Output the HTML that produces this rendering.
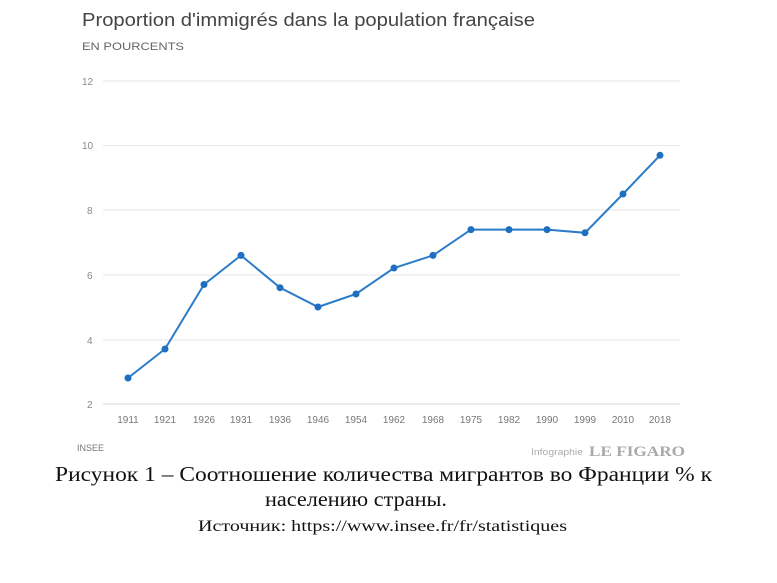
<!DOCTYPE html>
<html><head><meta charset="utf-8"><style>
body{margin:0;background:#fff;width:777px;height:583px;overflow:hidden}
svg{position:absolute;left:0;top:0}
</style></head><body>
<svg width="777" height="583" xmlns="http://www.w3.org/2000/svg">
<text x="82" y="26" font-family="Liberation Sans, sans-serif" font-size="18" fill="#444" textLength="453" lengthAdjust="spacingAndGlyphs">Proportion d'immigrés dans la population française</text>
<text x="82" y="50" font-family="Liberation Sans, sans-serif" font-size="11" fill="#666" textLength="102" lengthAdjust="spacingAndGlyphs">EN POURCENTS</text>
<g stroke="#e6e6e6" stroke-width="1">
<line x1="103" y1="81" x2="680" y2="81"/>
<line x1="103" y1="145.5" x2="680" y2="145.5"/>
<line x1="103" y1="210" x2="680" y2="210"/>
<line x1="103" y1="275" x2="680" y2="275"/>
<line x1="103" y1="340" x2="680" y2="340"/>
<line x1="103" y1="404" x2="680" y2="404" stroke="#d8d8d8"/>
</g>
<g font-family="Liberation Sans, sans-serif" font-size="10" fill="#888">
<text x="82" y="85">12</text><text x="82" y="149">10</text><text x="87" y="214">8</text>
<text x="87" y="279">6</text><text x="87" y="344">4</text><text x="87" y="408">2</text>
</g>
<g font-family="Liberation Sans, sans-serif" font-size="10" fill="#777" text-anchor="middle">
<text x="128" y="423">1911</text><text x="165" y="423">1921</text><text x="204" y="423">1926</text><text x="241" y="423">1931</text><text x="280" y="423">1936</text><text x="318" y="423">1946</text><text x="356" y="423">1954</text><text x="394" y="423">1962</text><text x="433" y="423">1968</text><text x="471" y="423">1975</text><text x="509" y="423">1982</text><text x="547" y="423">1990</text><text x="585" y="423">1999</text><text x="623" y="423">2010</text><text x="660" y="423">2018</text>
</g>
<polyline fill="none" stroke="#2a7bc8" stroke-width="2" points="128,378 165,349 204,284.5 241,255.4 280,287.7 318,307 356,294 394,268 433,255.4 471,229.6 509,229.6 547,229.6 585,232.8 623,194 660,155.3"/>
<g fill="#1f6fc0">
<circle cx="128" cy="378" r="3.5"/><circle cx="165" cy="349" r="3.5"/><circle cx="204" cy="284.5" r="3.5"/><circle cx="241" cy="255.4" r="3.5"/><circle cx="280" cy="287.7" r="3.5"/><circle cx="318" cy="307" r="3.5"/><circle cx="356" cy="294" r="3.5"/><circle cx="394" cy="268" r="3.5"/><circle cx="433" cy="255.4" r="3.5"/><circle cx="471" cy="229.6" r="3.5"/><circle cx="509" cy="229.6" r="3.5"/><circle cx="547" cy="229.6" r="3.5"/><circle cx="585" cy="232.8" r="3.5"/><circle cx="623" cy="194" r="3.5"/><circle cx="660" cy="155.3" r="3.5"/>
</g>
<text x="77" y="451" font-family="Liberation Sans, sans-serif" font-size="9" fill="#777">INSEE</text>
<text x="531" y="455" font-family="Liberation Sans, sans-serif" font-size="9" fill="#aaa" textLength="52" lengthAdjust="spacingAndGlyphs">Infographie</text>
<text x="589" y="456" font-family="Liberation Serif, serif" font-size="15" font-weight="bold" fill="#aaa" textLength="96" lengthAdjust="spacingAndGlyphs">LE FIGARO</text>
<g font-family="Liberation Serif, serif" fill="#111">
<text x="55" y="481" font-size="21" textLength="657" lengthAdjust="spacingAndGlyphs">Рисунок 1 – Соотношение количества мигрантов во Франции % к</text>
<text x="265" y="506" font-size="21" textLength="182" lengthAdjust="spacingAndGlyphs">населению страны.</text>
<text x="198" y="531" font-size="16" textLength="369" lengthAdjust="spacingAndGlyphs">Источник: https://www.insee.fr/fr/statistiques</text>
</g>
</svg>
</body></html>
